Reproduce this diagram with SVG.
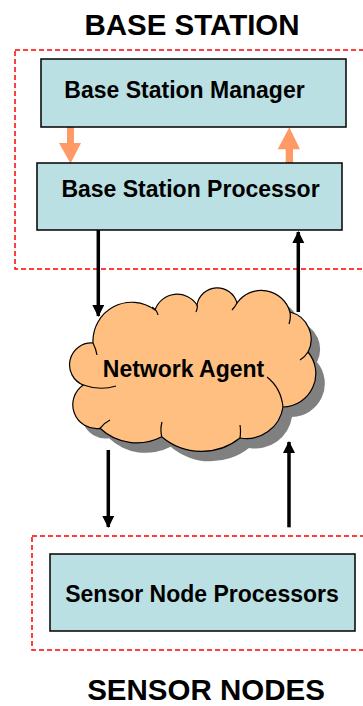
<svg xmlns="http://www.w3.org/2000/svg" width="363" height="706" viewBox="0 0 363 706">
<style>
.box{fill:#BBE0E3;stroke:#000;stroke-width:1.5}
.zone{fill:none;stroke:#FF0000;stroke-width:1.5;stroke-dasharray:5,3}
.t{font-family:"Liberation Sans",Arial,sans-serif;font-weight:bold;fill:#000;text-anchor:middle}
.lbl{font-size:23px}
.title{font-size:29.5px}
.blk{stroke:#000;stroke-width:3.5;fill:none}
.org{fill:#FF9966;stroke:none}
.ridge{fill:none;stroke:#000;stroke-width:1.2}
</style>
<defs>
<marker id="ah" markerUnits="userSpaceOnUse" markerWidth="13" markerHeight="13" refX="11" refY="6" orient="auto">
<path d="M0,0 L12,6 L0,12 Z" fill="#000"/>
</marker>
<path id="cloudShape" d="M93,343 A38.8,38.8 0 0 1 155,310 A23.5,23.5 0 0 1 197,305 A20.5,20.5 0 0 1 237,303 A29.8,29.8 0 0 1 290,312 A28,28 0 0 1 308,352 A33.5,33.5 0 0 1 283,407 A37,37 0 0 1 240,438 A61.7,61.7 0 0 1 161.7,436.7 A53.6,53.6 0 0 1 100,428.3 A23.8,23.8 0 0 1 83.3,385 A21.8,21.8 0 0 1 93,343 Z"/>
</defs>

<g id="zones">
<rect class="zone" x="15" y="50" width="360" height="219"/>
<rect class="zone" x="32" y="536" width="345" height="114"/>
</g>

<g id="titles">
<text class="t title" x="192" y="35">BASE STATION</text>
<text class="t title" x="206" y="700">SENSOR NODES</text>
</g>

<g id="connectors">
<line class="blk" x1="98.3" y1="230" x2="98.3" y2="316" marker-end="url(#ah)"/>
<line class="blk" x1="298.3" y1="312" x2="298.3" y2="232" marker-end="url(#ah)"/>
<line class="blk" x1="108.3" y1="450" x2="108.3" y2="527" marker-end="url(#ah)"/>
<line class="blk" x1="289" y1="527.3" x2="289" y2="442" marker-end="url(#ah)"/>
<path class="org" d="M67,127 L74,127 L74,143 L81,143 L70.5,163.5 L59,143 L67,143 Z"/>
<path class="org" d="M285.7,165 L293,165 L293,149.3 L300,149.3 L289.3,127.3 L277.7,149.3 L285.7,149.3 Z"/>
</g>

<g id="manager">
<rect class="box" x="41" y="59" width="305" height="68"/>
<text class="t lbl" x="184.5" y="98">Base Station Manager</text>
</g>

<g id="processor">
<rect class="box" x="37" y="163" width="305" height="67"/>
<text class="t lbl" x="190.5" y="197">Base Station Processor</text>
</g>

<g id="network-agent">
<use href="#cloudShape" transform="translate(9,10)" fill="#808080"/>
<use href="#cloudShape" fill="#FFBF80" stroke="#000" stroke-width="1.2"/>
<path class="ridge" d="M93,343 Q96,349 97,355 M83.3,385 Q100,391 116,386 M152,307 Q157,310 158,315 M197,305 Q198,308 196,312 M237,303 Q235,307 232,310 M290,312 Q291,318 289,324 M308,352 Q305,357 300,360 M283,407 Q281,388 267,377 M240,438 Q241,431 240,425 M161.7,436.7 Q160,429 162,422 M100,428.3 Q104,423 110,420"/>
<text class="t lbl" x="183.5" y="377">Network Agent</text>
</g>

<g id="sensor-nodes">
<rect class="box" x="50" y="554" width="305" height="77"/>
<text class="t lbl" x="202" y="602">Sensor Node Processors</text>
</g>
</svg>
